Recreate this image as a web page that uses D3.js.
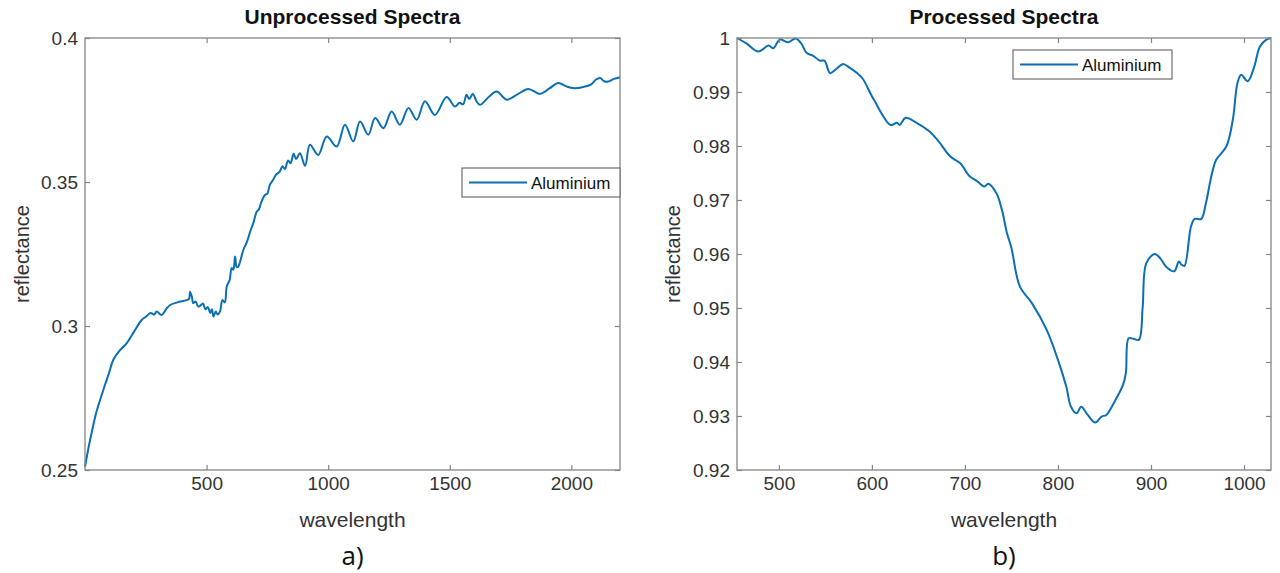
<!DOCTYPE html>
<html>
<head>
<meta charset="utf-8">
<script src="https://cdn.jsdelivr.net/npm/d3@7"></script>
<style>
  html, body { margin: 0; padding: 0; background: #fff; }
  svg { display: block; }
  text { font-family: "Liberation Sans", Arial, sans-serif; }
</style>
</head>
<body>
<svg id="fig" width="1280" height="573"></svg>
<script>
// Panel a) raw reflectance spectrum of aluminium
const rawWavelength = [0, 15, 30, 45, 62, 80, 100, 116, 140, 171, 200, 233, 250, 270, 285, 295, 315, 335, 350, 380,
  418, 428, 432, 440, 445, 455, 465, 473, 485, 495, 505, 515, 522, 528, 538, 545, 555, 565, 575, 583,
  595, 603, 610, 617, 624, 630, 640, 651, 665, 680, 692, 706, 715, 725, 740, 750, 760, 774, 785, 800,
  812, 822, 835, 845, 858, 868, 884, 905, 925, 959, 994, 1035, 1069, 1103, 1131, 1165, 1193, 1227, 1261, 1295,
  1330, 1364, 1398, 1439, 1487, 1521, 1540, 1555, 1569, 1580, 1595, 1610, 1624, 1660, 1693, 1734, 1780, 1823, 1871, 1910,
  1946, 1980, 2008, 2050, 2080, 2100, 2118, 2135, 2152, 2175, 2200];
const rawReflectance = [0.2511, 0.2580, 0.2640, 0.2695, 0.2743, 0.2790, 0.2840, 0.2882, 0.2912, 0.2940, 0.2978, 0.3021, 0.3032, 0.3045, 0.3040, 0.3050, 0.3038, 0.3060, 0.3073, 0.3082,
  0.3090, 0.3095, 0.3119, 0.3100, 0.3079, 0.3085, 0.3068, 0.3070, 0.3078, 0.3058, 0.3066, 0.3045, 0.3058, 0.3033, 0.3050, 0.3040, 0.3050, 0.3090, 0.3082, 0.3137,
  0.3160, 0.3201, 0.3195, 0.3241, 0.3205, 0.3206, 0.3230, 0.3264, 0.3290, 0.3330, 0.3357, 0.3397, 0.3405, 0.3430, 0.3455, 0.3460, 0.3490, 0.3508, 0.3525, 0.3535,
  0.3555, 0.3545, 0.3575, 0.3565, 0.3598, 0.3580, 0.3600, 0.3556, 0.3629, 0.3594, 0.3658, 0.3623, 0.3699, 0.3641, 0.3710, 0.3664, 0.3722, 0.3687, 0.3745, 0.3699,
  0.3757, 0.3716, 0.3780, 0.3733, 0.3795, 0.3762, 0.3775, 0.3770, 0.3803, 0.3788, 0.3806, 0.3780, 0.3768, 0.3795, 0.3814, 0.3786, 0.3805, 0.3823, 0.3806, 0.3825,
  0.3844, 0.3832, 0.3826, 0.3830, 0.3838, 0.3855, 0.3861, 0.3850, 0.3849, 0.3858, 0.3864];

// Panel b) processed (continuum-removed) spectrum
const procWavelength = [455, 465, 478, 489, 494, 501, 510, 518, 524, 530, 537, 544, 549, 555, 562, 569, 576, 584, 590, 602,
  620, 627, 630, 636, 648, 662, 672, 684, 695, 705, 713, 721, 725, 734, 740, 745, 750, 759, 772, 788,
  800, 809, 814, 820, 825, 832, 840, 847, 852, 861, 870, 873, 876, 881, 887, 891, 895, 904, 910, 916,
  925, 930, 933, 936, 943, 947, 954, 959, 965, 970, 981, 988, 993, 997, 1004, 1011, 1017, 1024, 1029];
const procReflectance = [1.0000, 0.9990, 0.9975, 0.9986, 0.9981, 0.9997, 0.9992, 0.9999, 0.9990, 0.9972, 0.9967, 0.9958, 0.9958, 0.9935, 0.9943, 0.9952, 0.9945, 0.9935, 0.9925, 0.9886,
  0.9839, 0.9843, 0.9839, 0.9852, 0.9843, 0.9827, 0.9808, 0.9781, 0.9768, 0.9744, 0.9735, 0.9725, 0.9730, 0.9712, 0.9680, 0.9640, 0.9611, 0.9540, 0.9509, 0.9459,
  0.9404, 0.9354, 0.9317, 0.9305, 0.9317, 0.9302, 0.9288, 0.9299, 0.9302, 0.9327, 0.9358, 0.9380, 0.9444, 0.9443, 0.9441, 0.9500, 0.9583, 0.9600, 0.9592, 0.9577,
  0.9568, 0.9586, 0.9580, 0.9578, 0.9651, 0.9665, 0.9665, 0.9694, 0.9745, 0.9774, 0.9799, 0.9849, 0.9917, 0.9932, 0.9920, 0.9947, 0.9984, 0.9997, 1.0000];

// Axis limits and tick labels
const rawXDomain = [0, 2200];
const rawYDomain = [0.25, 0.4];
const rawXTicks = [500, 1000, 1500, 2000];
const rawYTicks = [0.25, 0.3, 0.35, 0.4];
const procXDomain = [455, 1029];
const procYDomain = [0.92, 1.0];
const procXTicks = [500, 600, 700, 800, 900, 1000];
const procYTicks = [0.92, 0.93, 0.94, 0.95, 0.96, 0.97, 0.98, 0.99, 1.0];

const panelTitles = ["Unprocessed Spectra", "Processed Spectra"];
const panelTags = ["a)", "b)"];
const seriesName = "Aluminium";
const xLabel = "wavelength";
const yLabel = "reflectance";

const lineColor = "#0a6fb3";
const boxColor = "#858585";
const textColor = "#333333";

const svg = d3.select("#fig");

function drawPanel(cfg) {
  const { left, right, top, bottom } = cfg.box;
  const x = d3.scaleLinear().domain(cfg.xDomain).range([left, right]);
  const y = d3.scaleLinear().domain(cfg.yDomain).range([bottom, top]);
  const fmt = d => String(+(+d).toFixed(2));
  const g = svg.append("g");

  // white axes background
  g.append("rect").attr("x", left).attr("y", top)
    .attr("width", right - left).attr("height", bottom - top).attr("fill", "#fff");

  // the spectrum
  const pts = cfg.xs.map((v, i) => [v, cfg.ys[i]]);
  const line = d3.line().x(d => x(d[0])).y(d => y(d[1])).curve(d3.curveCatmullRom.alpha(0.5));
  g.append("path").datum(pts).attr("d", line)
    .attr("fill", "none").attr("stroke", lineColor).attr("stroke-width", 2)
    .attr("stroke-linejoin", "round");

  // axes with inward ticks on all four sides
  const styleAxis = sel => {
    sel.select(".domain").remove();
    sel.selectAll(".tick line").attr("stroke", boxColor).attr("stroke-width", 1.2);
    sel.selectAll(".tick text").attr("fill", textColor)
      .style("font-family", "'Liberation Sans', Arial, sans-serif").style("font-size", "19px");
  };
  g.append("g").attr("transform", `translate(0,${bottom})`)
    .call(d3.axisBottom(x).tickValues(cfg.xTicks).tickSize(-5).tickPadding(7).tickFormat(fmt)).call(styleAxis);
  g.append("g").attr("transform", `translate(0,${top})`)
    .call(d3.axisTop(x).tickValues(cfg.xTicks).tickSize(-5).tickFormat("")).call(styleAxis);
  g.append("g").attr("transform", `translate(${left},0)`)
    .call(d3.axisLeft(y).tickValues(cfg.yTicks).tickSize(-5).tickPadding(7).tickFormat(fmt)).call(styleAxis);
  g.append("g").attr("transform", `translate(${right},0)`)
    .call(d3.axisRight(y).tickValues(cfg.yTicks).tickSize(-5).tickFormat("")).call(styleAxis);

  // axes frame
  g.append("rect").attr("x", left).attr("y", top)
    .attr("width", right - left).attr("height", bottom - top)
    .attr("fill", "none").attr("stroke", boxColor).attr("stroke-width", 1.3);

  const cx = (left + right) / 2;
  g.append("text").attr("x", cx).attr("y", top - 14).attr("text-anchor", "middle")
    .attr("fill", "#111").style("font-size", "21px").style("font-weight", "bold").text(cfg.title);
  g.append("text").attr("x", cx).attr("y", bottom + 57).attr("text-anchor", "middle")
    .attr("fill", textColor).style("font-size", "21px").text(xLabel);
  g.append("text").attr("transform", `translate(${cfg.yLabelX},${(top + bottom) / 2}) rotate(-90)`)
    .attr("text-anchor", "middle").attr("fill", textColor).style("font-size", "20px").text(yLabel);
  g.append("text").attr("x", cx).attr("y", 565).attr("text-anchor", "middle")
    .attr("fill", "#111").style("font-family", "'Open Sans', 'Noto Sans', sans-serif")
    .style("font-size", "26px").text(cfg.tag);

  // legend
  const lg = cfg.legend;
  g.append("rect").attr("x", lg.x).attr("y", lg.y).attr("width", lg.w).attr("height", lg.h)
    .attr("fill", "#fff").attr("stroke", "#6e6e6e").attr("stroke-width", 1.2);
  g.append("line").attr("x1", lg.x + 7).attr("x2", lg.x + 65)
    .attr("y1", lg.y + lg.h / 2).attr("y2", lg.y + lg.h / 2)
    .attr("stroke", lineColor).attr("stroke-width", 2);
  g.append("text").attr("x", lg.x + 69).attr("y", lg.y + lg.h / 2 + 6)
    .attr("fill", "#111").style("font-size", "17px").text(seriesName);
}

drawPanel({
  box: { left: 85, right: 620, top: 38, bottom: 470 },
  xDomain: rawXDomain, yDomain: rawYDomain, xTicks: rawXTicks, yTicks: rawYTicks,
  xs: rawWavelength, ys: rawReflectance,
  title: panelTitles[0], tag: panelTags[0], yLabelX: 29,
  legend: { x: 462, y: 168, w: 158, h: 29 }
});

drawPanel({
  box: { left: 737, right: 1271, top: 38, bottom: 470 },
  xDomain: procXDomain, yDomain: procYDomain, xTicks: procXTicks, yTicks: procYTicks,
  xs: procWavelength, ys: procReflectance,
  title: panelTitles[1], tag: panelTags[1], yLabelX: 680,
  legend: { x: 1013, y: 50, w: 159, h: 29 }
});
</script>
</body>
</html>
